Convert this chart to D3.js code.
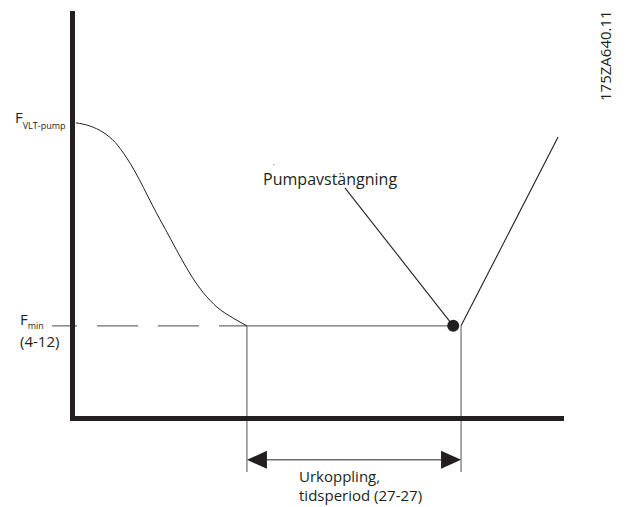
<!DOCTYPE html>
<html>
<head>
<meta charset="utf-8">
<script src="https://cdn.jsdelivr.net/npm/d3@7"></script>
<style>
  body { margin: 0; background: #fff; }
  text { font-family: "Open Sans", "Noto Sans", sans-serif; fill: #231f20; }
</style>
</head>
<body>
<div id="chart"></div>
<script>
// time (0-100) and frequency (0-100) in arbitrary units
var rampTime = [0.8, 3.7, 6.3, 8.8, 11.2, 18.0, 26.7, 29.6, 32.9, 35.7];
var rampFreq = [72.7, 71.9, 70.4, 67.9, 64.0, 48.8, 31.0, 27.3, 24.6, 22.7];
var fMin = 22.7;
var sleepStart = 35.7;
var sleepEnd = 79.4;
var sleepPoint = [77.8, 22.7];
var restartLine = [[79.4, 22.7], [99.2, 69.2]];
var labelVlt = {main: "F", sub: "VLT-pump"};
var labelMin = {main: "F", sub: "min", par: "(4-12)"};
var labelSleep = "Pumpavstängning";
var labelTimer = ["Urkoppling,", "tidsperiod (27-27)"];
var drawingId = "175ZA640.11";

var W = 627, H = 507;
var svg = d3.select("#chart")
    .append("svg")
    .attr("width", W)
    .attr("height", H);

var x = d3.scaleLinear().domain([0, 100]).range([72, 562]);
var y = d3.scaleLinear().domain([0, 100]).range([418, 12]);

var ink = "#231f20", grey = "#6d6e70";

// dashed Fmin reference line
svg.append("line")
    .attr("x1", 52).attr("x2", x(sleepStart))
    .attr("y1", y(fMin)).attr("y2", y(fMin))
    .style("stroke", grey).style("stroke-width", 1.2)
    .style("stroke-dasharray", "41,20").style("stroke-dashoffset", 16);

// solid Fmin segment during sleep timer
svg.append("line")
    .attr("x1", x(sleepStart)).attr("x2", x(sleepPoint[0]))
    .attr("y1", y(fMin)).attr("y2", y(fMin))
    .style("stroke", grey).style("stroke-width", 1.2);

// vertical extension lines
[sleepStart, sleepEnd].forEach(function(t){
  svg.append("line")
      .attr("x1", x(t)).attr("x2", x(t))
      .attr("y1", y(fMin)).attr("y2", y(-13.3))
      .style("stroke", grey).style("stroke-width", 1.2);
});

// ramp down curve
var line = d3.line()
    .x(function(d){ return x(d[0]); })
    .y(function(d){ return y(d[1]); })
    .curve(d3.curveMonotoneX);

svg.append("path")
    .datum(d3.zip(rampTime, rampFreq))
    .attr("d", line)
    .style("fill", "none").style("stroke", ink).style("stroke-width", 1);

// restart line
svg.append("path")
    .datum(restartLine)
    .attr("d", d3.line().x(function(d){ return x(d[0]); }).y(function(d){ return y(d[1]); }))
    .style("fill", "none").style("stroke", ink).style("stroke-width", 1.1);

// leader line to sleep point
svg.append("line")
    .attr("x1", x(55.7)).attr("y1", y(56.7))
    .attr("x2", x(sleepPoint[0])).attr("y2", y(sleepPoint[1]))
    .style("stroke", ink).style("stroke-width", 1.1);

svg.append("circle")
    .attr("cx", x(sleepPoint[0])).attr("cy", y(sleepPoint[1]))
    .attr("r", 6)
    .style("fill", ink);

svg.append("circle")
    .attr("cx", x(41.2)).attr("cy", y(62.4)).attr("r", 0.6)
    .style("fill", grey);

// axes (thick bars)
svg.append("rect")
    .attr("x", 70).attr("y", 11).attr("width", 5).attr("height", 410)
    .style("fill", ink);
svg.append("rect")
    .attr("x", 70).attr("y", 416).attr("width", 494).attr("height", 5)
    .style("fill", ink);

// dimension arrow
var ay = y(-10.3);
svg.append("line")
    .attr("x1", x(sleepStart) + 18).attr("x2", x(sleepEnd) - 18)
    .attr("y1", ay).attr("y2", ay)
    .style("stroke", grey).style("stroke-width", 1.4);
svg.append("path")
    .attr("d", "M" + x(sleepStart) + "," + ay + "l20,-9v18z")
    .style("fill", ink);
svg.append("path")
    .attr("d", "M" + x(sleepEnd) + "," + ay + "l-20,-9v18z")
    .style("fill", ink);

// labels
var t1 = svg.append("text").attr("x", 15).attr("y", y(72.7)).style("font-size", "15px");
t1.append("tspan").text(labelVlt.main);
t1.append("tspan").attr("dy", 6).style("font-size", "9px").text(labelVlt.sub);

var t2 = svg.append("text").attr("x", 20).attr("y", y(fMin) - 1).style("font-size", "15px");
t2.append("tspan").text(labelMin.main);
t2.append("tspan").attr("dy", 4).style("font-size", "9px").text(labelMin.sub);
svg.append("text").attr("x", 20).attr("y", y(fMin) + 21)
    .style("font-size", "15px").text(labelMin.par);

svg.append("text")
    .attr("x", x(39)).attr("y", y(57.4))
    .style("font-size", "16px")
    .text(labelSleep);

labelTimer.forEach(function(s, i){
  svg.append("text")
      .attr("x", 299).attr("y", 482 + i * 19)
      .style("font-size", "15px")
      .text(s);
});

svg.append("text")
    .attr("transform", "translate(611,101) rotate(-90)")
    .style("font-size", "15px")
    .text(drawingId);
</script>
</body>
</html>
